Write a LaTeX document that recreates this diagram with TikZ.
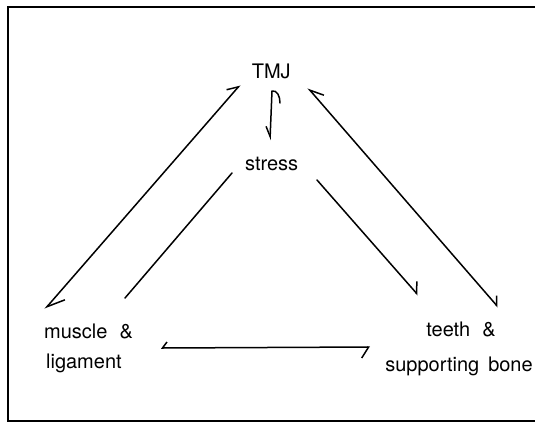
\documentclass[tikz,border=0pt]{standalone}
\usepackage{fontspec}
\setmainfont{TeX Gyre Heros}
\usetikzlibrary{arrows.meta}
\begin{document}
\begin{tikzpicture}[x=1pt,y=-1pt,
  lbl/.style={inner sep=0pt, font=\fontsize{20}{24}\selectfont},
  conn/.style={line width=1.5pt, line cap=round, line join=round},
  frame/.style={line width=1.8pt}]
\useasboundingbox (0,0) rectangle (535,424);
\draw[frame] (8,7) rectangle (560,421);
% labels
\node[lbl, anchor=base] (tmj) at (271.3,78.3) {TMJ};
\node[lbl, anchor=base] (stress) at (271.7,170) {stress};
\node[lbl, anchor=base west] (mus) at (44,338) {muscle\hspace{12pt}\&};
\node[lbl, anchor=base west] (lig) at (46,368) {ligament};
\node[lbl, anchor=base] (teeth) at (461,336.5) {teeth\hspace{12pt}\&};
\node[lbl, anchor=base] (supp) at (459,371) {supporting\hspace{9pt}bone};
% connector end points
\coordinate (lt) at (240,85);
\coordinate (lb) at (45,309);
\coordinate (rt) at (308,88);
\coordinate (rb) at (498,307);
\coordinate (vt) at (272,91);
\coordinate (vh) at (280,103);
\coordinate (vb) at (270,140);
\coordinate (sm1) at (232,173);
\coordinate (sm2) at (125,298);
\coordinate (st1) at (317,180);
\coordinate (st2) at (418,295);
\coordinate (hl) at (161,348);
\coordinate (hr) at (370,347);
% connectors
\draw[conn, {Straight Barb[left, length=17pt, width=18pt]}-{Straight Barb[left, length=10pt, width=14pt]}] (lb) -- (lt);
\draw[conn, {Straight Barb[right, length=13pt, width=14.6pt]}-{Straight Barb[left, length=7.5pt, width=13pt]}] (rt) -- (rb);
\draw[conn, {Straight Barb[right, length=10pt, width=9pt]}-] (vb) -- (vt) .. controls (277,90) and (280,96) .. (vh);
\draw[conn] (sm1) -- (sm2);
\draw[conn, -{Straight Barb[left, length=9pt, width=16pt]}] (st1) -- (st2);
\draw[conn, {Straight Barb[right, length=4.5pt, width=12pt]}-{Straight Barb[right, length=7pt, width=22pt]}] (hl) -- (hr);
\end{tikzpicture}
\end{document}
